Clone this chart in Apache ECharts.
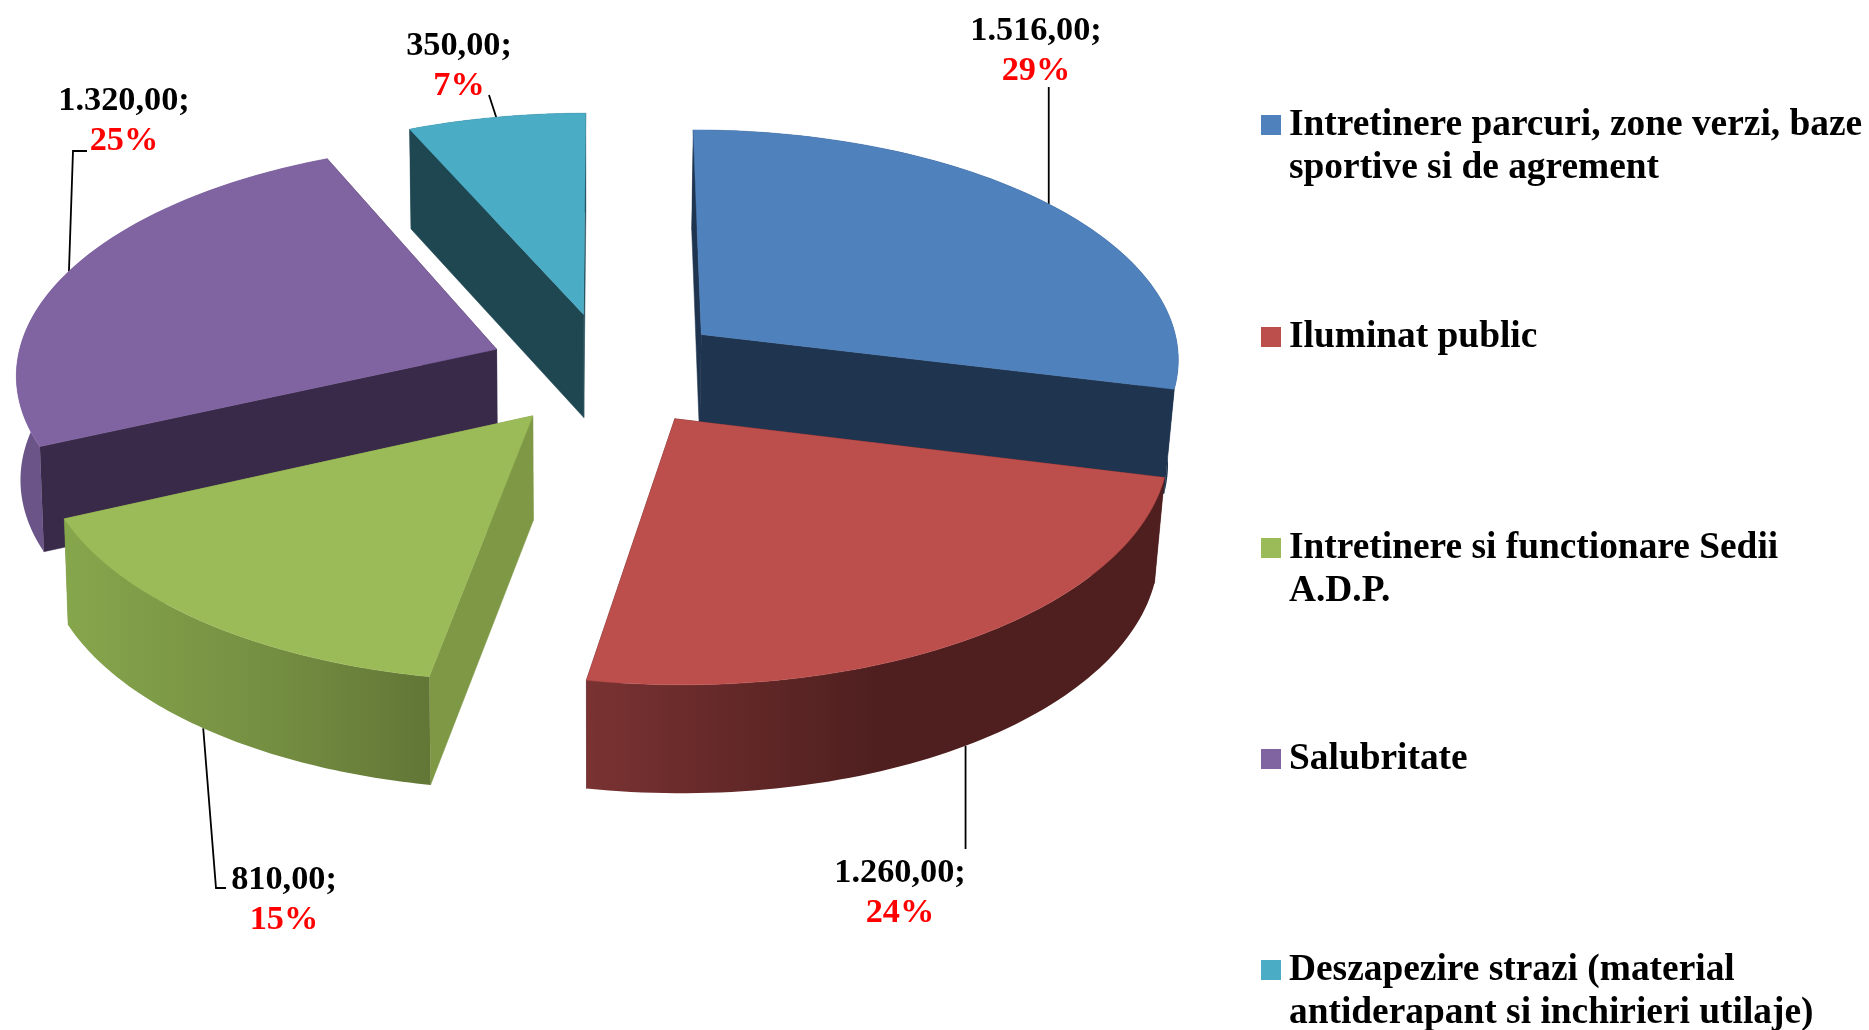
<!DOCTYPE html>
<html><head><meta charset="utf-8">
<style>html,body{margin:0;padding:0;background:#fff}#c{width:1869px;height:1030px}</style>
<script src="https://cdn.jsdelivr.net/npm/echarts@6/dist/echarts.min.js"></script>
</head><body><div id="c"></div>
<script>
const categories = ['Intretinere parcuri, zone verzi, baze sportive si de agrement','Iluminat public','Intretinere si functionare Sedii A.D.P.','Salubritate','Deszapezire strazi (material antiderapant si inchirieri utilaje)'];
const values = [1516, 1260, 810, 1320, 350];
const legendLines = [['Intretinere parcuri, zone verzi, baze','sportive si de agrement'],['Iluminat public'],['Intretinere si functionare Sedii','A.D.P.'],['Salubritate'],['Deszapezire strazi (material','antiderapant si inchirieri utilaje)']];
const topColors = ['#4F81BD','#BC4F4C','#9BBB59','#8064A2','#4BACC6'];
const wallColors = ['#1F344F','#4F1F1F','#7E9846','#3A2A4A','#1F4752'];
const rimStops = [
  [[0,'#1F344F'],[1,'#1F344F']],
  [[0,'#7A3232'],[0.5,'#4F1F1F'],[1,'#4F1F1F']],
  [[0,'#86A64C'],[0.55,'#758F42'],[1,'#627636']],
  [[0,'#6B5488'],[1,'#6B5488']],
  [[0,'#1F4752'],[1,'#1F4752']]
];
// draw order, back to front
const stackZ = [3,5,4,2,1];
// layout: pixel positions of the label blocks and leader elbows (null x = straight up/down from the slice)
const labelAt = [[1036,51],[900,893],[284,900],[124,121],[459,66]];
const leaderEnd = [[[null,87]],[[null,849]],[[216,888],[226,888]],[[73,151],[87,151]],[[489,95]]];
const leaderFromBase = [false,true,true,false,false];
const legendIconY = [125,337,548,759,970];

const cx=608, cy=369.5, explode=0.25, R=481, Rb=230.5, persp=0.0957, depth=104, shrinkL=0.993, shrinkR=0.982;
const total = values.reduce((a,b)=>a+b,0);
const fmt = v => String(v).replace(/\B(?=(\d{3})+$)/g,'.') + ',00;';

function project(u,v){ const d=1-persp*v; return [cx+R*u/d, cy+Rb*v/d, v]; }
function geometry(i){
  const before = values.slice(0,i).reduce((a,b)=>a+b,0);
  const a0 = before/total*2*Math.PI, a1 = (before+values[i])/total*2*Math.PI, mid=(a0+a1)/2;
  const u0 = explode*Math.sin(mid), v0 = -explode*Math.cos(mid);
  const top = t => project(u0+Math.sin(t), v0-Math.cos(t));
  const base = p => [cx+(p[0]-cx)*(p[0]>cx?shrinkR:shrinkL), p[1]+depth*(1+0.035*p[2])];
  return {a0,a1,mid,apex:project(u0,v0),top,base};
}
function renderSlice(i){
  return function(params, api){
    const g = geometry(i), n = 72;
    const arc=[]; for(let k=0;k<=n;k++){ arc.push(g.top(g.a0+(g.a1-g.a0)*k/n)); }
    const arcXY = arc.map(p=>[p[0],p[1]]);
    const arcBase = arc.map(g.base);
    const apex=[g.apex[0],g.apex[1]], apexB=g.base(g.apex);
    const wall = pts => ({type:'polygon',shape:{points:pts},style:{fill:wallColors[i],stroke:wallColors[i],lineWidth:0.5}});
    const wallA = wall([apex,arcXY[0],arcBase[0],apexB]);
    const wallB = wall([apex,arcXY[n],arcBase[n],apexB]);
    const rim = {type:'polygon',shape:{points:arcXY.concat(arcBase.slice().reverse())},
      style:{fill:new echarts.graphic.LinearGradient(0,0,1,0,rimStops[i].map(s=>({offset:s[0],color:s[1]})))}};
    const topFace = {type:'polygon',shape:{points:[apex].concat(arcXY)},style:{fill:topColors[i],stroke:topColors[i],lineWidth:0.5}};
    const m = g.top(g.mid);
    const start = leaderFromBase[i] ? g.base(m) : [m[0],m[1]];
    const ends = leaderEnd[i].map(p=>[p[0]===null?start[0]:p[0],p[1]]);
    const leader = {type:'polyline',shape:{points:[[start[0],start[1]]].concat(ends)},style:{stroke:'#000',lineWidth:1.8,fill:null}};
    const label = {type:'text',style:{x:labelAt[i][0],y:labelAt[i][1],align:'center',verticalAlign:'middle',
      text:'{a|'+fmt(api.value(0))+'}\n{b|'+Math.round(api.value(0)/total*100)+'%}',
      rich:{a:{fontFamily:'Liberation Serif',fontWeight:'bold',fontSize:34.3,lineHeight:40,fill:'#000',color:'#000'},
            b:{fontFamily:'Liberation Serif',fontWeight:'bold',fontSize:34.3,lineHeight:40,fill:'#f00',color:'#f00'}}}};
    return {type:'group',children:[leader,wallA,wallB,rim,topFace,label]};
  };
}
const series = categories.map((name,i)=>({
  type:'custom',name,coordinateSystem:'none',z:stackZ[i],silent:true,animation:false,
  itemStyle:{color:topColors[i]},
  renderItem:renderSlice(i),data:[[values[i]]]
}));
const legends = categories.map((name,i)=>{
  const lines = legendLines[i], two = lines.length>1;
  return {
    left:1261, top: legendIconY[i]-(two?64.5:21.5), padding:0, orient:'vertical', itemWidth:20, itemHeight:20, itemGap:0,
    selectedMode:false, icon:'rect', data:[name],
    formatter:()=>(two?'{t| }\n':'')+lines.map(l=>'{t|'+l+'}').join('\n'),
    textStyle:{fontFamily:'Liberation Serif',fontWeight:'bold',fontSize:37.4,lineHeight:43,color:'#000',
      rich:{t:{fontFamily:'Liberation Serif',fontWeight:'bold',fontSize:37.4,lineHeight:43,color:'#000',padding:[0,0,0,3]}}}
  };
});
const chart = echarts.init(document.getElementById('c'),null,{renderer:'canvas'});
chart.setOption({animation:false,backgroundColor:'#fff',legend:legends,series});
</script></body></html>
